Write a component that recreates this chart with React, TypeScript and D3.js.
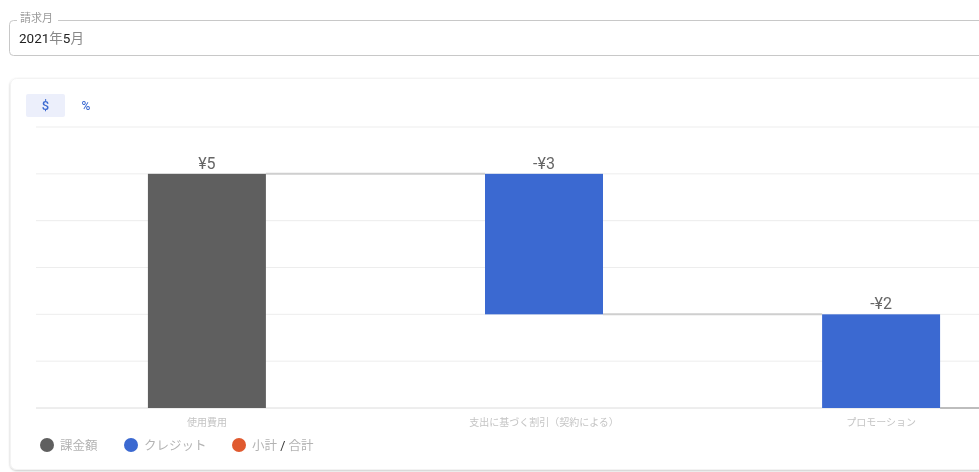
import React from "react";
import * as d3 from "d3";

const categories = ["使用費用", "支出に基づく割引（契約による）", "プロモーション"];
const values = [5, -3, -2];
const kinds = ["charge", "credit", "credit"];
const valueLabels = ["¥5", "-¥3", "-¥2"];
const yTicks = [0, 1, 2, 3, 4, 5, 6];
const legendLabels = ["課金額", "クレジット", "小計 / 合計"];
const legendKinds = ["charge", "credit", "subtotal"];
const colors: Record<string, string> = { charge: "#5f5f5f", credit: "#3b69d1", subtotal: "#e05a2f" };

const W = 979;
const H = 472;
const FONT = "Roboto, 'Noto Sans CJK JP', sans-serif";

export default function App() {
  const x = d3.scaleBand<string>().domain(categories).range([36, 1052]).paddingInner(0.65).paddingOuter(0.332);
  const y = d3.scaleLinear().domain([0, 6]).range([408, 127]);

  let run = 0;
  const bars = values.map((v, i) => {
    const start = run;
    run += v;
    return { cat: categories[i], start, end: run, kind: kinds[i], label: valueLabels[i] };
  });

  const legendX = [47, 131, 239];

  return (
    <svg width={W} height={H} style={{ position: "fixed", left: 0, top: 0, fontFamily: FONT }}>
      <defs>
        <filter id="sh" x="-5%" y="-5%" width="110%" height="110%">
          <feDropShadow dx="0" dy="1" stdDeviation="1" floodColor="#000" floodOpacity="0.22" />
        </filter>
        <clipPath id="cl"><rect x={0} y={0} width={W} height={H} /></clipPath>
      </defs>
      {/* input field */}
      <path d={`M17,20.5 L13.5,20.5 Q9.5,20.5 9.5,24.5 L9.5,51.5 Q9.5,55.5 13.5,55.5 L1000,55.5 M58,20.5 L1000,20.5`} fill="none" stroke="#c8c8c8" />
      <text x={20} y={22} fontSize={11} fill="#9a9a9a">請求月</text>
      <text x={19} y={43} fontSize={13.5} fill="#222">
        2021<tspan fill="#888">年</tspan>5<tspan fill="#888">月</tspan>
      </text>
      {/* card */}
      <rect x={10.5} y={78.5} width={1000} height={391} rx={6} fill="#fff" stroke="#f3f3f3" filter="url(#sh)" />
      <rect x={26} y={94} width={39} height={23} rx={2} fill="#eceffb" />
      <text x={45.5} y={110} fontSize={13} fill="#3b69d1" textAnchor="middle" fontWeight={500}>$</text>
      <text x={86} y={110} fontSize={12} fill="#3b69d1" textAnchor="middle" fontWeight={500}>%</text>
      <g clipPath="url(#cl)">
        {yTicks.map((t) => (
          <line key={t} x1={36} x2={W} y1={y(t)} y2={y(t)} stroke={t === 0 ? "#dcdcdc" : "#ededed"} strokeWidth={1} />
        ))}
        {bars.map((b, i) => {
          const x0 = x(b.cat)!;
          const top = y(Math.max(b.start, b.end));
          const bot = y(Math.min(b.start, b.end));
          const next = i < bars.length - 1 ? x(bars[i + 1].cat)! : W;
          return (
            <g key={b.cat}>
              <line x1={x0 + x.bandwidth()} x2={next} y1={y(b.end)} y2={y(b.end)} stroke={i < bars.length - 1 ? "#cfcfcf" : "#bdbdbd"} strokeWidth={2} />
              <rect x={x0} y={top} width={x.bandwidth()} height={bot - top} fill={colors[b.kind]} />
              <text x={x0 + x.bandwidth() / 2} y={top - 5} fontSize={16} fill="#666" textAnchor="middle">{b.label}</text>
              <text x={x0 + x.bandwidth() / 2} y={426} fontSize={10} fill="#c4c4c4" textAnchor="middle">{b.cat}</text>
            </g>
          );
        })}
      </g>
      {legendLabels.map((l, i) => {
        const parts = l.split(" / ");
        return (
          <g key={l}>
            <circle cx={legendX[i]} cy={445} r={7} fill={colors[legendKinds[i]]} />
            <text x={legendX[i] + 13} y={450} fontSize={12.5} fill="#b3b3b3">
              {parts.length > 1 ? (
                <>
                  {parts[0]} <tspan fill="#333">/</tspan> {parts[1]}
                </>
              ) : l}
            </text>
          </g>
        );
      })}
    </svg>
  );
}
